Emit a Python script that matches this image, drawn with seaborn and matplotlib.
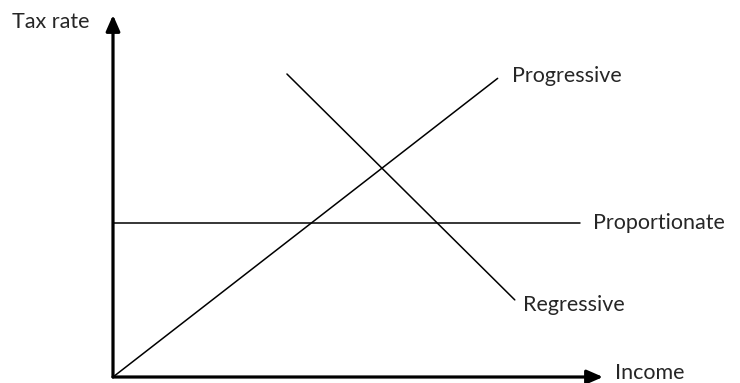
import matplotlib
matplotlib.use("Agg")
import matplotlib.pyplot as plt
import seaborn as sns
import pandas as pd

# Conceptual data (income vs tax rate, arbitrary units 0-10)
progressive_x = [0.0, 7.85]
progressive_y = [0.0, 8.25]
regressive_x = [3.55, 8.2]
regressive_y = [8.37, 2.13]
proportionate_x = [0.0, 9.53]
proportionate_y = [4.25, 4.25]

series_names = ["Progressive", "Regressive", "Proportionate"]
label_pos = {"Progressive": (8.14, 8.31), "Regressive": (8.37, 1.99), "Proportionate": (9.8, 4.25)}

df = pd.concat([
    pd.DataFrame({"income": progressive_x, "rate": progressive_y, "type": "Progressive"}),
    pd.DataFrame({"income": regressive_x, "rate": regressive_y, "type": "Regressive"}),
    pd.DataFrame({"income": proportionate_x, "rate": proportionate_y, "type": "Proportionate"}),
])

sns.set_theme(style="white")
plt.rcParams['font.family'] = ['Lato', 'DejaVu Sans']

W, H = 740, 383
fig = plt.figure(figsize=(W / 100, H / 100), dpi=100)
ax = fig.add_axes([113 / W, (H - 377) / H, 490 / W, 362 / H])
ax.set_xlim(0, 10)
ax.set_ylim(0, 10)

sns.lineplot(data=df, x="income", y="rate", hue="type", units="type", estimator=None,
             palette={n: "black" for n in series_names}, linewidth=1.1, legend=False,
             sort=False, ax=ax)

for s in ax.spines.values():
    s.set_visible(False)
ax.set_xticks([])
ax.set_yticks([])
ax.set_xlabel("")
ax.set_ylabel("")

arrow = dict(arrowstyle="-|>,head_length=0.8,head_width=0.35", color="black", lw=2.3,
             shrinkA=0, shrinkB=0)
ax.annotate("", xy=(10, 0), xytext=(0, 0), arrowprops=arrow, annotation_clip=False)
ax.annotate("", xy=(0, 10), xytext=(0, 0), arrowprops=arrow, annotation_clip=False)

fs = 15.5
for n in series_names:
    x, y = label_pos[n]
    ax.text(x, y, n, fontsize=fs, ha="left", va="center", clip_on=False)
ax.text(10.24, 0.11, "Income", fontsize=fs, ha="left", va="center", clip_on=False)
ax.text(-2.06, 9.8, "Tax rate", fontsize=fs, ha="left", va="center", clip_on=False)

fig.savefig("out.png", dpi=100)
